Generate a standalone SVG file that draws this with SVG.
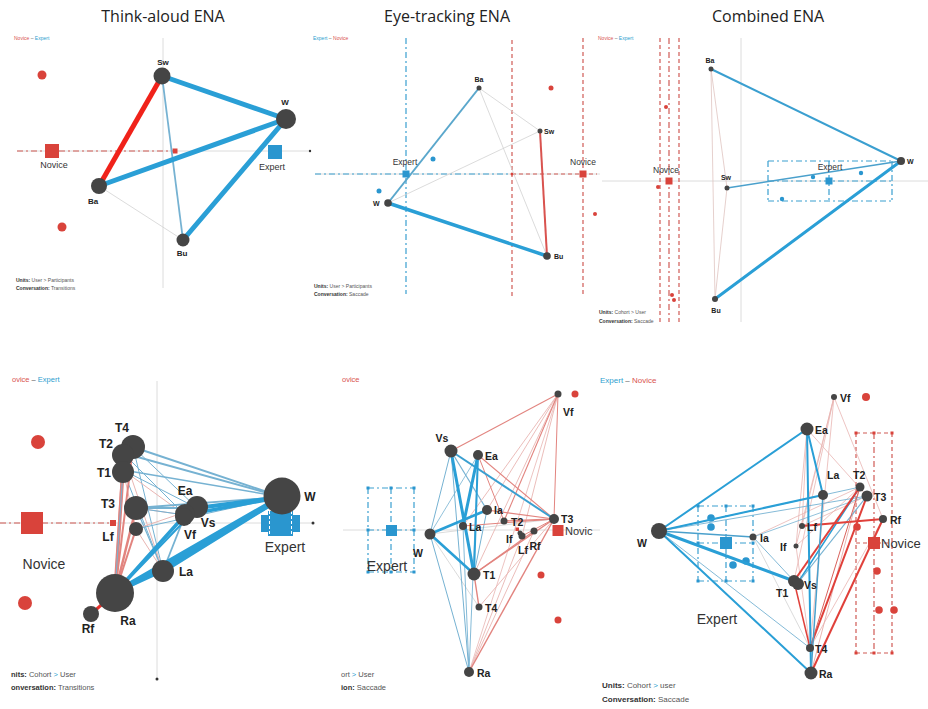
<svg xmlns="http://www.w3.org/2000/svg" width="928" height="709" viewBox="0 0 928 709">
<style>
.title{font-family:"Open Sans","Liberation Sans",sans-serif;font-size:16px;fill:#222;text-anchor:middle}
.nd{fill:#454545}
.lb{font-family:"Liberation Sans",Arial,sans-serif;font-weight:bold;fill:#222}
.l1{font-size:8px}
.l4{font-size:12px}
.l5{font-size:10.5px}
.grp{font-family:"Liberation Sans",Arial,sans-serif;fill:#333}
.tiny{font-family:"Liberation Sans",Arial,sans-serif;fill:#555}
.tiny tspan.b{font-weight:bold;fill:#333}
.red{fill:#d9433b}
.blue{fill:#2a96cf}
.rtx{fill:#d9534f}
.btx{fill:#2ea0cf}
.ax{stroke:#dcdcdc;stroke-width:1;fill:none}
.eb{stroke:#2a9fd6;fill:none;stroke-linecap:round}
.el{stroke:#76b2d2;fill:none}
.er{stroke:#d9625c;fill:none}
.er5{stroke:#e2847f;fill:none}
.ep{stroke:#e9b5b2;fill:none}
.eg{stroke:#d2d2d2;fill:none}
.rd{stroke:#d05a55;stroke-width:1.2;fill:none;stroke-dasharray:4 3}
.rdd{stroke:#d05a55;stroke-width:1.2;fill:none;stroke-dasharray:6 3 2 3}
.bd{stroke:#3a9fd0;stroke-width:1.2;fill:none;stroke-dasharray:4 3}
.bdd{stroke:#3a9fd0;stroke-width:1.2;fill:none;stroke-dasharray:6 3 2 3}
</style>
<rect width="928" height="709" fill="#fff"/>

<!-- Titles -->
<text class="title" x="163" y="22">Think-aloud ENA</text>
<text class="title" x="447" y="22">Eye-tracking ENA</text>
<text class="title" x="768" y="22">Combined ENA</text>

<!-- ================= Panel 1: Think-aloud ================= -->
<g id="panel1">
<text class="tiny" x="14" y="40" font-size="5"><tspan class="rtx">Novice</tspan> – <tspan class="btx">Expert</tspan></text>
<line class="ax" x1="163" y1="38" x2="163" y2="288"/>
<line class="ax" x1="17" y1="151" x2="310" y2="151"/>
<circle cx="310" cy="151" r="1.2" fill="#333"/>
<line class="rdd" x1="17" y1="151" x2="175" y2="151" stroke-width="1.5"/>
<rect x="172.5" y="148.5" width="5" height="5" class="red"/>
<circle cx="42" cy="75" r="4.5" class="red"/>
<circle cx="62" cy="227" r="4.5" class="red"/>
<g id="p1-connectors">
<line x1="99" y1="186" x2="183" y2="240" class="eg" stroke-width="0.8"/>
<line x1="162" y1="76" x2="183" y2="240" class="el" stroke-width="1.8"/>
<line x1="162" y1="76" x2="99" y2="186" stroke="#f0221a" stroke-width="5"/>
<line x1="162" y1="76" x2="286" y2="119" class="eb" stroke-width="5"/>
<line x1="99" y1="186" x2="286" y2="119" class="eb" stroke-width="5"/>
<line x1="286" y1="119" x2="183" y2="240" class="eb" stroke-width="5"/>
</g>
<g id="p1-novice"><rect x="45" y="144" width="14" height="14" class="red"/><text class="grp" x="54" y="168" font-size="9" text-anchor="middle">Novice</text></g>
<g id="p1-expert"><rect x="268" y="145" width="14" height="14" class="blue"/><text class="grp" x="272" y="170" font-size="9" text-anchor="middle">Expert</text></g>
<g id="p1-Sw"><circle cx="162" cy="76" r="8.5" class="nd"/><text class="lb l1" x="163" y="65" text-anchor="middle">Sw</text></g>
<g id="p1-W"><circle cx="286" cy="119" r="10" class="nd"/><text class="lb l1" x="285" y="105" text-anchor="middle">W</text></g>
<g id="p1-Ba"><circle cx="99" cy="186" r="8" class="nd"/><text class="lb l1" x="93" y="204" text-anchor="middle">Ba</text></g>
<g id="p1-Bu"><circle cx="183" cy="240" r="6.5" class="nd"/><text class="lb l1" x="182" y="256" text-anchor="middle">Bu</text></g>
<text class="tiny" x="16" y="282" font-size="5"><tspan class="b">Units:</tspan> User &gt; Participants</text>
<text class="tiny" x="16" y="290" font-size="5"><tspan class="b">Conversation:</tspan> Transitions</text>
</g>

<!-- ================= Panel 2: Eye-tracking ================= -->
<g id="panel2">
<text class="tiny" x="313" y="40" font-size="5"><tspan class="btx">Expert</tspan> – <tspan class="rtx">Novice</tspan></text>
<line class="ax" x1="315" y1="174" x2="600" y2="174"/>
<line class="bdd" x1="406" y1="38" x2="406" y2="294"/>
<line class="rd" x1="512" y1="40" x2="512" y2="296"/>
<line class="rd" x1="583" y1="38" x2="583" y2="294"/>
<line class="bdd" x1="315" y1="174" x2="512" y2="174"/>
<line class="rd" x1="512" y1="174" x2="597" y2="174"/>
<circle cx="512" cy="174" r="1.5" class="red"/>
<circle cx="433" cy="159" r="2.5" class="blue"/>
<circle cx="379" cy="191" r="2.5" class="blue"/>
<circle cx="551" cy="88" r="2.5" class="red"/>
<circle cx="595" cy="214" r="2" class="red"/>
<g id="p2-connectors">
<line x1="479" y1="88" x2="540" y2="131" class="eg" stroke-width="0.8"/>
<line x1="479" y1="88" x2="547" y2="256" class="eg" stroke-width="0.8"/>
<line x1="388" y1="203" x2="540" y2="131" class="eg" stroke-width="0.8"/>
<line x1="388" y1="203" x2="479" y2="88" stroke="#5aa7cc" stroke-width="2"/>
<line x1="388" y1="203" x2="547" y2="256" class="eb" stroke-width="3.5"/>
<line x1="540" y1="131" x2="547" y2="256" stroke="#d9534f" stroke-width="2"/>
</g>
<g id="p2-expert"><rect x="402.5" y="170.5" width="7" height="7" class="blue"/><text class="grp" x="405" y="165" font-size="8.5" text-anchor="middle">Expert</text></g>
<g id="p2-novice"><rect x="579.5" y="170.5" width="7" height="7" class="red"/><text class="grp" x="583" y="165" font-size="8.5" text-anchor="middle">Novice</text></g>
<g id="p2-Ba"><circle cx="479" cy="88" r="2.5" class="nd"/><text class="lb" font-size="7" x="479" y="82" text-anchor="middle">Ba</text></g>
<g id="p2-Sw"><circle cx="540" cy="131" r="2.5" class="nd"/><text class="lb" font-size="7" x="544" y="133.5">Sw</text></g>
<g id="p2-W"><circle cx="388" cy="203" r="3.8" class="nd"/><text class="lb" font-size="7" x="373" y="206">W</text></g>
<g id="p2-Bu"><circle cx="547" cy="256" r="3.8" class="nd"/><text class="lb" font-size="7" x="554" y="258.5">Bu</text></g>
<text class="tiny" x="314" y="288" font-size="5"><tspan class="b">Units:</tspan> User &gt; Participants</text>
<text class="tiny" x="314" y="296" font-size="5"><tspan class="b">Conversation:</tspan> Saccade</text>
</g>

<!-- ================= Panel 3: Combined ================= -->
<g id="panel3">
<text class="tiny" x="598" y="40" font-size="5"><tspan class="rtx">Novice</tspan> – <tspan class="btx">Expert</tspan></text>
<line class="ax" x1="741" y1="38" x2="741" y2="322"/>
<line class="ax" x1="602" y1="181" x2="928" y2="181"/>
<line class="rd" x1="660" y1="38" x2="660" y2="322"/>
<line class="rdd" x1="669" y1="38" x2="669" y2="322"/>
<line class="rd" x1="679" y1="38" x2="679" y2="322"/>
<circle cx="666" cy="107" r="2" class="red"/>
<circle cx="658" cy="187" r="2" class="red"/>
<circle cx="672" cy="295" r="2" class="red"/>
<circle cx="674" cy="300" r="2" class="red"/>
<g id="p3-expertbox">
<line class="bdd" x1="768" y1="161" x2="892" y2="161"/>
<line class="bdd" x1="768" y1="181" x2="892" y2="181"/>
<line class="bdd" x1="768" y1="201" x2="892" y2="201"/>
<line class="bdd" x1="768" y1="161" x2="768" y2="201"/>
<line class="bdd" x1="829" y1="161" x2="829" y2="201"/>
<line class="bdd" x1="892" y1="161" x2="892" y2="201"/>
</g>
<circle cx="813" cy="177" r="2.2" class="blue"/>
<circle cx="861" cy="173" r="2.2" class="blue"/>
<circle cx="782" cy="199" r="2.2" class="blue"/>
<g id="p3-connectors">
<line x1="711" y1="69" x2="727" y2="188" stroke="#e0c4c0" stroke-width="0.8"/>
<line x1="711" y1="69" x2="715" y2="299" stroke="#e0c4c0" stroke-width="0.8"/>
<line x1="727" y1="188" x2="715" y2="299" stroke="#e0c4c0" stroke-width="0.8"/>
<line x1="711" y1="69" x2="901" y2="161" stroke="#3a9fd0" stroke-width="2"/>
<line x1="727" y1="188" x2="901" y2="161" stroke="#4aa0cc" stroke-width="1.5"/>
<line x1="715" y1="299" x2="901" y2="161" class="eb" stroke-width="3"/>
</g>
<g id="p3-novice"><rect x="665.5" y="177.5" width="7" height="7" class="red"/><text class="grp" x="666" y="173" font-size="8.5" text-anchor="middle">Novice</text></g>
<g id="p3-expert"><rect x="825.5" y="177.5" width="7" height="7" class="blue"/><text class="grp" x="830" y="170" font-size="8.5" text-anchor="middle">Expert</text></g>
<g id="p3-Ba"><circle cx="711" cy="69" r="2.5" class="nd"/><text class="lb" font-size="7" x="710" y="63" text-anchor="middle">Ba</text></g>
<g id="p3-W"><circle cx="901" cy="161" r="4" class="nd"/><text class="lb" font-size="7" x="907" y="163.5">W</text></g>
<g id="p3-Sw"><circle cx="727" cy="188" r="2.5" class="nd"/><text class="lb" font-size="7" x="726" y="180" text-anchor="middle">Sw</text></g>
<g id="p3-Bu"><circle cx="715" cy="299" r="3" class="nd"/><text class="lb" font-size="7" x="716" y="313" text-anchor="middle">Bu</text></g>
<text class="tiny" x="599" y="314" font-size="5"><tspan class="b">Units:</tspan> Cohort &gt; User</text>
<text class="tiny" x="599" y="323" font-size="5"><tspan class="b">Conversation:</tspan> Saccade</text>
</g>

<!-- ================= Panel 4: Think-aloud detailed ================= -->
<g id="panel4">
<text class="tiny" x="12" y="382" font-size="7.5"><tspan class="rtx">ovice</tspan> – <tspan class="btx">Expert</tspan></text>
<line class="ax" x1="157" y1="381" x2="157" y2="679"/>
<circle cx="157" cy="679" r="1.5" fill="#333"/>
<line class="ax" x1="0" y1="523" x2="313" y2="523"/>
<circle cx="313" cy="523" r="1.5" fill="#333"/>
<line class="rdd" x1="0" y1="523" x2="113" y2="523" stroke-width="2"/>
<rect x="110" y="520" width="6" height="6" class="red"/>
<circle cx="38" cy="442" r="7" class="red"/>
<circle cx="25" cy="603" r="7" class="red"/>
<g id="p4-connectors">
<line x1="133" y1="447" x2="197" y2="508" class="el" stroke-width="1"/>
<line x1="123" y1="453" x2="185" y2="515" class="el" stroke-width="1"/>
<line x1="123" y1="470" x2="197" y2="508" class="el" stroke-width="1"/>
<line x1="123" y1="470" x2="163" y2="571" class="el" stroke-width="1"/>
<line x1="133" y1="447" x2="163" y2="571" class="el" stroke-width="1"/>
<line x1="136" y1="508" x2="163" y2="571" class="el" stroke-width="1.2"/>
<line x1="123" y1="470" x2="185" y2="515" class="ep" stroke-width="1"/>
<line x1="136" y1="508" x2="185" y2="515" class="ep" stroke-width="1"/>
<line x1="136" y1="529" x2="197" y2="508" class="ep" stroke-width="1"/>
<line x1="123" y1="453" x2="163" y2="571" class="ep" stroke-width="1"/>
<line x1="136" y1="529" x2="163" y2="571" class="ep" stroke-width="1"/>
<line x1="123" y1="470" x2="136" y2="529" class="ep" stroke-width="1"/>
<line x1="136" y1="508" x2="197" y2="508" class="el" stroke-width="1.8"/>
<line x1="136" y1="508" x2="185" y2="515" class="el" stroke-width="1.2"/>
<line x1="163" y1="571" x2="185" y2="515" class="el" stroke-width="1.8"/>
<line x1="282" y1="497" x2="133" y2="447" class="el" stroke-width="2"/>
<line x1="282" y1="497" x2="123" y2="453" class="el" stroke-width="2"/>
<line x1="282" y1="497" x2="123" y2="470" class="el" stroke-width="1.5"/>
<line x1="282" y1="497" x2="136" y2="508" class="el" stroke-width="1.8"/>
<line x1="282" y1="497" x2="136" y2="529" class="el" stroke-width="1"/>
<line x1="282" y1="497" x2="197" y2="508" class="eb" stroke-width="4"/>
<line x1="282" y1="497" x2="185" y2="515" class="eb" stroke-width="3.5"/>
<line x1="282" y1="497" x2="163" y2="571" class="eb" stroke-width="5"/>
<line x1="282" y1="497" x2="115" y2="593" class="eb" stroke-width="6"/>
<line x1="115" y1="593" x2="185" y2="515" class="eb" stroke-width="3.5"/>
<line x1="115" y1="593" x2="197" y2="508" class="eb" stroke-width="2"/>
<line x1="115" y1="593" x2="163" y2="571" class="eb" stroke-width="2.5"/>
<line x1="115" y1="593" x2="123" y2="470" class="er5" stroke-width="3.5"/>
<line x1="115" y1="593" x2="123" y2="453" class="er5" stroke-width="2"/>
<line x1="115" y1="593" x2="133" y2="447" class="er5" stroke-width="2"/>
<line x1="115" y1="593" x2="136" y2="508" class="er5" stroke-width="2.5"/>
<line x1="115" y1="593" x2="136" y2="529" class="er5" stroke-width="2"/>
<line x1="115" y1="593" x2="91" y2="614" stroke="#e8302a" stroke-width="3"/>
<line x1="123" y1="470" x2="115" y2="593" class="el" stroke-width="1"/>
</g>
<g id="p4-novice"><rect x="21" y="512" width="22" height="22" class="red"/><text class="grp" x="44" y="569" font-size="14" text-anchor="middle">Novice</text></g>
<g id="p4-expert">
<rect x="261" y="515" width="39" height="17" class="blue"/>
<rect x="268" y="511" width="25" height="25" class="blue"/>
<line x1="269.5" y1="511" x2="269.5" y2="536" stroke="#fff" stroke-width="1" stroke-dasharray="3 2"/>
<line x1="291.5" y1="511" x2="291.5" y2="536" stroke="#fff" stroke-width="1" stroke-dasharray="3 2"/>
<text class="grp" x="285" y="552" font-size="14" text-anchor="middle">Expert</text>
</g>
<g id="p4-T4"><circle cx="133" cy="447" r="12" class="nd"/><text class="lb l4" x="122" y="432" text-anchor="middle">T4</text></g>
<g id="p4-T2"><circle cx="123" cy="455" r="11" class="nd"/><text class="lb l4" x="106" y="448" text-anchor="middle">T2</text></g>
<g id="p4-T1"><circle cx="123" cy="472" r="11" class="nd"/><text class="lb l4" x="104" y="477" text-anchor="middle">T1</text></g>
<g id="p4-T3"><circle cx="136" cy="508" r="12" class="nd"/><text class="lb l4" x="108" y="508" text-anchor="middle">T3</text></g>
<g id="p4-Lf"><circle cx="136" cy="529" r="7" class="nd"/><text class="lb l4" x="108" y="541" text-anchor="middle">Lf</text></g>
<g id="p4-Ea"><circle cx="197" cy="507" r="11" class="nd"/><text class="lb l4" x="185" y="495" text-anchor="middle">Ea</text></g>
<g id="p4-Vs"><circle cx="185" cy="514" r="10" class="nd"/><text class="lb l4" x="208" y="527" text-anchor="middle">Vs</text></g>
<g id="p4-Vf"><circle cx="184" cy="517" r="9" class="nd"/><text class="lb l4" x="190" y="539" text-anchor="middle">Vf</text></g>
<g id="p4-W"><circle cx="282" cy="496" r="18.5" class="nd"/><text class="lb l4" x="310" y="501" text-anchor="middle">W</text></g>
<g id="p4-La"><circle cx="163" cy="571" r="11" class="nd"/><text class="lb l4" x="186" y="576" text-anchor="middle">La</text></g>
<g id="p4-Ra"><circle cx="115" cy="593" r="19" class="nd"/><text class="lb l4" x="128" y="625" text-anchor="middle">Ra</text></g>
<g id="p4-Rf"><circle cx="91" cy="614" r="8" class="nd"/><text class="lb l4" x="88" y="633" text-anchor="middle">Rf</text></g>
<text class="tiny" x="11" y="677" font-size="7.5"><tspan class="b">nits:</tspan> Cohort <tspan class="btx">&gt;</tspan> User</text>
<text class="tiny" x="11" y="690" font-size="7.5"><tspan class="b">onversation:</tspan> Transitions</text>
</g>

<!-- ================= Panel 5: Eye-tracking detailed ================= -->
<g id="panel5">
<text class="tiny rtx" x="342" y="382" font-size="7.5">ovice</text>
<line class="ax" x1="343" y1="530" x2="600" y2="530"/>
<g id="p5-expertbox">
<line class="bdd" x1="368" y1="488" x2="414" y2="488"/>
<line class="bdd" x1="368" y1="530" x2="414" y2="530"/>
<line class="bdd" x1="368" y1="572" x2="414" y2="572"/>
<line class="bdd" x1="368" y1="488" x2="368" y2="572"/>
<line class="bdd" x1="391" y1="488" x2="391" y2="572"/>
<line class="bdd" x1="414" y1="488" x2="414" y2="572"/>
<rect x="366.5" y="486.5" width="3" height="3" class="blue"/><rect x="389.5" y="486.5" width="3" height="3" class="blue"/><rect x="412.5" y="486.5" width="3" height="3" class="blue"/>
<rect x="366.5" y="528.5" width="3" height="3" class="blue"/><rect x="412.5" y="528.5" width="3" height="3" class="blue"/>
<rect x="366.5" y="570.5" width="3" height="3" class="blue"/><rect x="389.5" y="570.5" width="3" height="3" class="blue"/><rect x="412.5" y="570.5" width="3" height="3" class="blue"/>
</g>
<circle cx="575" cy="394" r="3.5" class="red"/>
<circle cx="541" cy="575" r="3.5" class="red"/>
<circle cx="558" cy="620" r="3.5" class="red"/>
<g id="p5-connectors">
<line x1="430" y1="534" x2="554" y2="519" class="eg" stroke-width="0.8"/>
<line x1="430" y1="534" x2="479" y2="607" class="eg" stroke-width="0.8"/>
<line x1="478" y1="455" x2="469" y2="672" class="el" stroke-width="0.9"/>
<line x1="463" y1="526" x2="469" y2="672" class="el" stroke-width="0.9"/>
<line x1="430" y1="534" x2="469" y2="672" class="el" stroke-width="1"/>
<line x1="451" y1="451" x2="469" y2="672" class="el" stroke-width="1"/>
<line x1="430" y1="534" x2="451" y2="451" class="el" stroke-width="1"/>
<line x1="430" y1="534" x2="478" y2="455" class="el" stroke-width="0.8"/>
<line x1="451" y1="451" x2="487" y2="510" class="el" stroke-width="1.2"/>
<line x1="487" y1="510" x2="474" y2="574" class="el" stroke-width="1"/>
<line x1="558" y1="394" x2="463" y2="526" class="ep" stroke-width="0.9"/>
<line x1="558" y1="394" x2="474" y2="574" class="ep" stroke-width="0.9"/>
<line x1="558" y1="394" x2="487" y2="510" class="ep" stroke-width="0.9"/>
<line x1="558" y1="394" x2="522" y2="536" class="ep" stroke-width="0.9"/>
<line x1="558" y1="394" x2="469" y2="672" class="ep" stroke-width="0.8"/>
<line x1="554" y1="519" x2="479" y2="607" class="ep" stroke-width="0.9"/>
<line x1="534" y1="531" x2="469" y2="672" class="ep" stroke-width="0.9"/>
<line x1="522" y1="536" x2="469" y2="672" class="ep" stroke-width="0.9"/>
<line x1="451" y1="451" x2="558" y2="394" class="er5" stroke-width="1.1"/>
<line x1="558" y1="394" x2="504" y2="521" class="er5" stroke-width="1.1"/>
<line x1="558" y1="394" x2="554" y2="519" class="er5" stroke-width="1"/>
<line x1="478" y1="455" x2="554" y2="519" class="er5" stroke-width="1.1"/>
<line x1="478" y1="455" x2="504" y2="521" class="er5" stroke-width="1"/>
<line x1="487" y1="510" x2="554" y2="519" class="er5" stroke-width="1.1"/>
<line x1="463" y1="526" x2="554" y2="519" class="er5" stroke-width="1"/>
<line x1="504" y1="521" x2="554" y2="519" class="er5" stroke-width="1.4"/>
<line x1="474" y1="574" x2="554" y2="519" class="er5" stroke-width="1.4"/>
<line x1="474" y1="574" x2="534" y2="531" class="er5" stroke-width="1.2"/>
<line x1="554" y1="519" x2="469" y2="672" class="er5" stroke-width="1.4"/>
<line x1="474" y1="574" x2="479" y2="607" class="er5" stroke-width="1.4"/>
<line x1="522" y1="536" x2="554" y2="519" class="er5" stroke-width="1"/>
<line x1="451" y1="451" x2="554" y2="519" stroke="#3a9fd0" stroke-width="2"/>
<line x1="451" y1="451" x2="474" y2="574" class="eb" stroke-width="3"/>
<line x1="478" y1="455" x2="463" y2="526" class="eb" stroke-width="3"/>
<line x1="478" y1="455" x2="474" y2="574" class="eb" stroke-width="2"/>
<line x1="430" y1="534" x2="487" y2="510" class="eb" stroke-width="2.5"/>
<line x1="430" y1="534" x2="474" y2="574" class="eb" stroke-width="2.5"/>
</g>
<g id="p5-expert"><rect x="386" y="525" width="11" height="11" class="blue"/><text class="grp" x="387" y="571" font-size="14" text-anchor="middle">Expert</text></g>
<g id="p5-novice"><rect x="552.5" y="525" width="11" height="11" class="red"/><rect x="515.5" y="527.5" width="3.5" height="3.5" class="red"/><text class="grp" x="565" y="535" font-size="11">Novic</text></g>
<g id="p5-Vf"><circle cx="558" cy="394" r="3.5" class="nd"/><text class="lb l5" x="563" y="416">Vf</text></g>
<g id="p5-Vs"><circle cx="451" cy="451" r="6.5" class="nd"/><text class="lb l5" x="442" y="442" text-anchor="middle">Vs</text></g>
<g id="p5-Ea"><circle cx="478" cy="455" r="5" class="nd"/><text class="lb l5" x="485" y="459.5">Ea</text></g>
<g id="p5-Ia"><circle cx="487" cy="510" r="5" class="nd"/><text class="lb l5" x="494" y="514">Ia</text></g>
<g id="p5-La"><circle cx="463" cy="526" r="4" class="nd"/><text class="lb l5" x="469" y="530.5">La</text></g>
<g id="p5-T2"><circle cx="504" cy="521" r="3.5" class="nd"/><text class="lb l5" x="511" y="525.5">T2</text></g>
<g id="p5-T3"><circle cx="554" cy="519" r="5" class="nd"/><text class="lb l5" x="561" y="523">T3</text></g>
<g id="p5-If"><circle cx="522" cy="536" r="3.5" class="nd"/><text class="lb l5" x="506" y="543">If</text></g>
<g id="p5-Lf"><circle cx="520" cy="533" r="2.5" class="nd"/><text class="lb l5" x="518" y="554">Lf</text></g>
<g id="p5-Rf"><circle cx="534" cy="531" r="3.5" class="nd"/><text class="lb l5" x="529.5" y="550">Rf</text></g>
<g id="p5-W"><circle cx="430" cy="534" r="5.5" class="nd"/><text class="lb l5" x="418" y="557" text-anchor="middle">W</text></g>
<g id="p5-T1"><circle cx="474" cy="574" r="6.5" class="nd"/><text class="lb l5" x="483" y="578.5">T1</text></g>
<g id="p5-T4"><circle cx="479" cy="607" r="3.5" class="nd"/><text class="lb l5" x="485" y="611.5">T4</text></g>
<g id="p5-Ra"><circle cx="469" cy="672" r="5" class="nd"/><text class="lb l5" x="477" y="676.5">Ra</text></g>
<text class="tiny" x="341" y="677" font-size="7.5">ort <tspan class="btx">&gt;</tspan> User</text>
<text class="tiny" x="341" y="690" font-size="7.5"><tspan class="b">ion:</tspan> Saccade</text>
</g>

<!-- ================= Panel 6: Combined detailed ================= -->
<g id="panel6">
<text class="tiny" x="600" y="383" font-size="8"><tspan class="btx">Expert</tspan> – <tspan class="rtx">Novice</tspan></text>
<g id="p6-expertbox">
<line class="bdd" x1="698" y1="506" x2="753" y2="506"/>
<line class="bdd" x1="698" y1="543" x2="753" y2="543"/>
<line class="bdd" x1="698" y1="581" x2="753" y2="581"/>
<line class="bdd" x1="698" y1="506" x2="698" y2="581"/>
<line class="bdd" x1="726" y1="506" x2="726" y2="581"/>
<line class="bdd" x1="753" y1="506" x2="753" y2="581"/>
<rect x="696.5" y="504.5" width="3" height="3" class="blue"/><rect x="724.5" y="504.5" width="3" height="3" class="blue"/><rect x="751.5" y="504.5" width="3" height="3" class="blue"/>
<rect x="696.5" y="541.5" width="3" height="3" class="blue"/><rect x="751.5" y="541.5" width="3" height="3" class="blue"/>
<rect x="696.5" y="579.5" width="3" height="3" class="blue"/><rect x="724.5" y="579.5" width="3" height="3" class="blue"/><rect x="751.5" y="579.5" width="3" height="3" class="blue"/>
</g>
<g id="p6-novicebox">
<line class="rd" x1="856" y1="433" x2="892" y2="433"/>
<line class="rd" x1="856" y1="653" x2="892" y2="653"/>
<line class="rd" x1="856" y1="543" x2="892" y2="543"/>
<line class="rd" x1="856" y1="433" x2="856" y2="653"/>
<line class="rdd" x1="874" y1="433" x2="874" y2="653"/>
<line class="rd" x1="892" y1="433" x2="892" y2="653"/>
<rect x="854.5" y="431.5" width="3" height="3" class="red"/><rect x="872.5" y="431.5" width="3" height="3" class="red"/><rect x="890.5" y="431.5" width="3" height="3" class="red"/>
<rect x="854.5" y="651.5" width="3" height="3" class="red"/><rect x="872.5" y="651.5" width="3" height="3" class="red"/><rect x="890.5" y="651.5" width="3" height="3" class="red"/>
</g>
<circle cx="711" cy="518" r="3.8" class="blue"/>
<circle cx="711" cy="527" r="3.8" class="blue"/>
<circle cx="746" cy="561" r="3.8" class="blue"/>
<circle cx="733" cy="565" r="3.8" class="blue"/>
<circle cx="866" cy="397" r="4" class="red"/>
<circle cx="857" cy="527" r="3.8" class="red"/>
<circle cx="877" cy="571" r="3.8" class="red"/>
<circle cx="879" cy="610" r="3.8" class="red"/>
<circle cx="894" cy="610" r="3.8" class="red"/>
<g id="p6-connectors">
<line x1="834" y1="397" x2="802" y2="526" class="ep" stroke-width="0.8"/>
<line x1="834" y1="397" x2="796" y2="546" class="ep" stroke-width="0.8"/>
<line x1="834" y1="397" x2="794" y2="581" class="ep" stroke-width="0.8"/>
<line x1="834" y1="397" x2="883" y2="519" class="ep" stroke-width="0.8"/>
<line x1="834" y1="397" x2="810" y2="648" class="ep" stroke-width="0.8"/>
<line x1="807" y1="429" x2="867" y2="496" class="ep" stroke-width="0.8"/>
<line x1="807" y1="429" x2="796" y2="546" class="ep" stroke-width="0.8"/>
<line x1="807" y1="429" x2="802" y2="526" class="ep" stroke-width="0.8"/>
<line x1="753" y1="537" x2="860" y2="487" class="ep" stroke-width="0.8"/>
<line x1="796" y1="546" x2="860" y2="487" class="ep" stroke-width="0.8"/>
<line x1="802" y1="526" x2="867" y2="496" class="ep" stroke-width="0.8"/>
<line x1="860" y1="487" x2="811" y2="673" class="ep" stroke-width="1"/>
<line x1="883" y1="519" x2="810" y2="648" class="ep" stroke-width="0.8"/>
<line x1="796" y1="546" x2="810" y2="648" class="ep" stroke-width="0.8"/>
<line x1="753" y1="537" x2="810" y2="648" class="eg" stroke-width="0.8"/>
<line x1="753" y1="537" x2="794" y2="581" class="el" stroke-width="0.9"/>
<line x1="659" y1="531" x2="810" y2="648" class="el" stroke-width="0.9"/>
<line x1="659" y1="531" x2="867" y2="496" class="el" stroke-width="0.9"/>
<line x1="659" y1="531" x2="860" y2="487" class="el" stroke-width="0.9"/>
<line x1="753" y1="537" x2="867" y2="496" class="el" stroke-width="0.8"/>
<line x1="860" y1="487" x2="797" y2="584" class="eb" stroke-width="1.5"/>
<line x1="867" y1="496" x2="797" y2="584" class="el" stroke-width="1.2"/>
<line x1="860" y1="487" x2="794" y2="581" stroke="#e0403a" stroke-width="2"/>
<line x1="867" y1="496" x2="810" y2="648" stroke="#e0403a" stroke-width="2"/>
<line x1="794" y1="581" x2="810" y2="648" stroke="#e0403a" stroke-width="1.5"/>
<line x1="883" y1="519" x2="811" y2="673" stroke="#e0403a" stroke-width="2"/>
<line x1="802" y1="526" x2="883" y2="519" stroke="#e0403a" stroke-width="2"/>
<line x1="860" y1="487" x2="810" y2="648" class="er" stroke-width="1"/>
<line x1="659" y1="531" x2="807" y2="429" class="eb" stroke-width="2"/>
<line x1="659" y1="531" x2="823" y2="495" class="eb" stroke-width="2"/>
<line x1="659" y1="531" x2="753" y2="537" stroke="#4aa0cc" stroke-width="1.4"/>
<line x1="659" y1="531" x2="794" y2="581" class="eb" stroke-width="3"/>
<line x1="659" y1="531" x2="811" y2="673" class="eb" stroke-width="2"/>
<line x1="807" y1="429" x2="823" y2="495" class="eb" stroke-width="2"/>
<line x1="807" y1="429" x2="811" y2="673" class="eb" stroke-width="2"/>
<line x1="823" y1="495" x2="811" y2="673" stroke="#4aa0cc" stroke-width="1.5"/>
</g>
<g id="p6-expert"><rect x="720" y="537" width="12" height="12" class="blue"/><text class="grp" x="717" y="624" font-size="14" text-anchor="middle">Expert</text></g>
<g id="p6-novice"><rect x="868" y="537" width="12" height="12" class="red"/><text class="grp" x="881" y="548" font-size="13">Novice</text></g>
<g id="p6-Vf"><circle cx="834" cy="397" r="3" class="nd"/><text class="lb l5" x="840" y="401.5">Vf</text></g>
<g id="p6-Ea"><circle cx="807" cy="429" r="6.5" class="nd"/><text class="lb l5" x="815" y="433.5">Ea</text></g>
<g id="p6-La"><circle cx="823" cy="495" r="5" class="nd"/><text class="lb l5" x="827" y="479">La</text></g>
<g id="p6-T2"><circle cx="860" cy="487" r="4.5" class="nd"/><text class="lb l5" x="853" y="479">T2</text></g>
<g id="p6-T3"><circle cx="867" cy="496" r="5.5" class="nd"/><text class="lb l5" x="874" y="500.5">T3</text></g>
<g id="p6-Rf"><circle cx="883" cy="519" r="4" class="nd"/><text class="lb l5" x="890" y="523.5">Rf</text></g>
<g id="p6-Lf"><circle cx="802" cy="526" r="3" class="nd"/><text class="lb l5" x="807" y="530.5">Lf</text></g>
<g id="p6-If"><circle cx="796" cy="546" r="2.5" class="nd"/><text class="lb l5" x="780" y="550.5">If</text></g>
<g id="p6-Ia"><circle cx="753" cy="537" r="3.5" class="nd"/><text class="lb l5" x="760" y="541.5">Ia</text></g>
<g id="p6-W"><circle cx="659" cy="531" r="8" class="nd"/><text class="lb l5" x="637" y="547">W</text></g>
<g id="p6-T1"><circle cx="794" cy="581" r="6" class="nd"/><text class="lb l5" x="776" y="597">T1</text></g>
<g id="p6-Vs"><circle cx="798" cy="584" r="6" class="nd"/><text class="lb l5" x="804" y="588.5">Vs</text></g>
<g id="p6-T4"><circle cx="810" cy="648" r="4" class="nd"/><text class="lb l5" x="815" y="652.5">T4</text></g>
<g id="p6-Ra"><circle cx="811" cy="673" r="6.5" class="nd"/><text class="lb l5" x="819" y="677.5">Ra</text></g>
<text class="tiny" x="602" y="688" font-size="8"><tspan class="b">Units:</tspan> Cohort <tspan class="btx">&gt;</tspan> user</text>
<text class="tiny" x="602" y="702" font-size="8"><tspan class="b">Conversation:</tspan> Saccade</text>
</g>
</svg>
